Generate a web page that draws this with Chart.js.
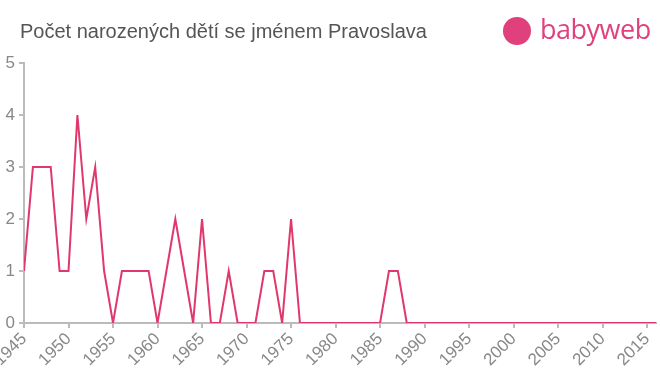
<!DOCTYPE html>
<html><head><meta charset="utf-8">
<script src="https://cdn.jsdelivr.net/npm/chart.js@4/dist/chart.umd.min.js"></script>
<style>
html,body{margin:0;padding:0;background:#fff;}
#wrap{position:relative;width:660px;height:375px;}
#title{position:absolute;left:20px;top:20px;font:20px "Liberation Sans",Arial,sans-serif;color:#555;white-space:nowrap;line-height:23px;}
#logo{position:absolute;left:502px;top:14px;height:36px;}
#logo .c{position:absolute;left:1px;top:3px;width:28px;height:28px;border-radius:50%;background:#e0407c;}
#logo .t{position:absolute;left:38px;top:-4px;font:27px "Open Sans",sans-serif;color:#e0407c;letter-spacing:-0.5px;white-space:nowrap;}
canvas{position:absolute;left:0;top:0;}
</style></head>
<body><div id="wrap">
<canvas id="c" width="660" height="375"></canvas>
<div id="title">Počet narozených dětí se jménem Pravoslava</div>
<div id="logo"><div class="c"></div><div class="t">babyweb</div></div>
</div>
<script>
const years = [];
for (let y = 1945; y <= 2016; y++) years.push(y);
const counts = [1,3,3,3,1,1,4,2,3,1, 0,1,1,1,1,0,1,2,1,0, 2,0,0,1,0,0,0,1,1,0, 2,0,0,0,0,0,0,0,0,0, 0,1,1,0,0,0,0,0,0,0, 0,0,0,0,0,0,0,0,0,0, 0,0,0,0,0,0,0,0,0,0, 0,0];
const yTicks = [0,1,2,3,4,5];
const xTickLabels = [1945,1950,1955,1960,1965,1970,1975,1980,1985,1990,1995,2000,2005,2010,2015];

const points = years.map((y,i)=>({x:y,y:counts[i]}));
new Chart(document.getElementById('c'),{
  type:'line',
  data:{datasets:[{data:points,borderColor:'#e0386c',borderWidth:2,pointRadius:0,tension:0,fill:false}]},
  options:{
    responsive:false,animation:false,
    layout:{padding:{top:63,right:4,left:0,bottom:0}},
    plugins:{legend:{display:false},tooltip:{enabled:false}},
    scales:{
      x:{type:'linear',min:1945,max:2016,
        afterBuildTicks:s=>{s.ticks=xTickLabels.map(v=>({value:v}));},
        ticks:{autoSkip:false,maxRotation:45,minRotation:45,color:'#888',font:{family:'Liberation Sans',size:17},padding:1,
          callback:v=>String(v)},
        grid:{display:true,drawOnChartArea:false,color:'#bbb',tickLength:5,lineWidth:2},
        border:{color:'#bbb',width:2},
        afterFit:s=>{s.paddingLeft=0;s.paddingRight=0;s.height=52;}
      },
      y:{min:0,max:5,
        afterBuildTicks:s=>{s.ticks=yTicks.map(v=>({value:v}));},
        ticks:{color:'#888',font:{family:'Liberation Sans',size:17},padding:4,
          callback:v=>String(v)},
        grid:{display:true,drawOnChartArea:false,color:'#bbb',tickLength:5,lineWidth:2},
        border:{color:'#bbb',width:2},
        afterFit:s=>{s.width=24;}
      }
    }
  }
});
</script>
</body></html>
